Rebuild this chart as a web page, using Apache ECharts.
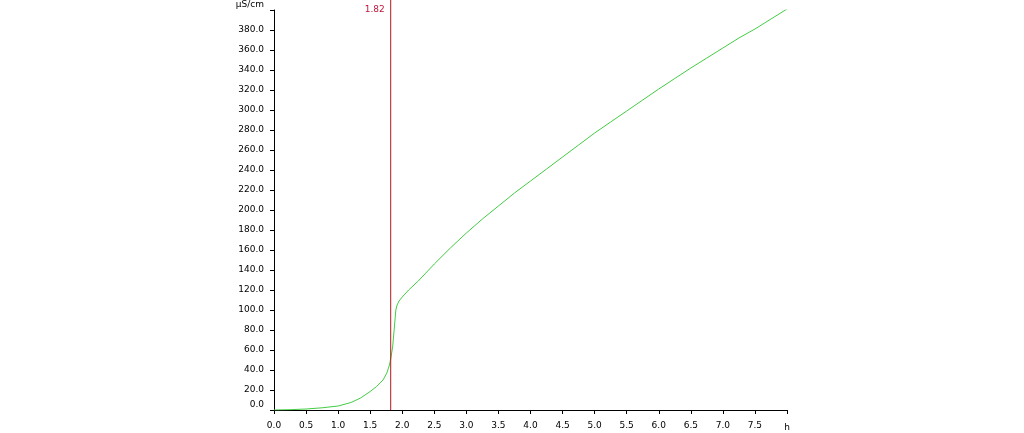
<!DOCTYPE html>
<html>
<head>
<meta charset="utf-8">
<script src="https://cdn.jsdelivr.net/npm/echarts@6/dist/echarts.min.js"></script>
<style>html,body{margin:0;padding:0;background:#fff;}#c{width:1024px;height:433px;}</style>
</head>
<body>
<div id="c"></div>
<script>
const xValues = [0.0,0.25,0.5,0.75,1.0,1.2,1.35,1.5,1.6,1.7,1.76,1.8,1.82,1.85,1.88,1.9,1.92,1.95,2.0,2.1,2.25,2.5,2.75,3.0,3.25,3.5,3.75,4.0,4.25,4.5,4.75,5.0,5.25,5.5,5.75,6.0,6.25,6.5,6.75,7.0,7.25,7.5,7.75,8.0];
const conductivity = [0,0.3,1,2.2,4,7.5,12,18.5,23.5,30,37,45,51,63,85,100,105,109,113,120,129,146,162,177,191,204,217,229,241,253,265,277,288,299,310,321,331.5,342,352,362,372,381,391,401];
const markerX = 1.82;
const markerLabel = '1.82';
const xUnit = 'h';
const yUnit = 'μS/cm';

const curve = xValues.map((x, i) => [x, conductivity[i]]);
const font = 'DejaVu Sans';
const chart = echarts.init(document.getElementById('c'));
chart.setOption({
  animation: false,
  backgroundColor: '#fff',
  grid: {left: 274, right: 237, top: 10, bottom: 23, containLabel: false},
  xAxis: {
    type: 'value', min: 0, max: 8, interval: 0.5,
    splitLine: {show: false},
    axisLine: {onZero: false, lineStyle: {color: '#000', width: 1}},
    axisTick: {show: true, length: 4, lineStyle: {color: '#000'}},
    axisLabel: {
      color: '#000', fontFamily: font, fontSize: 9, margin: 11,
      showMaxLabel: true,
      formatter: v => v === 8 ? '{u|' + xUnit + '}' : v.toFixed(1),
      rich: {u: {color: '#000', fontFamily: font, fontSize: 9, padding: [2, 0, 0, 0]}}
    }
  },
  yAxis: {
    type: 'value', min: 0, max: 400, interval: 20,
    splitLine: {show: false},
    axisLine: {show: true, lineStyle: {color: '#000', width: 1}},
    axisTick: {show: true, length: 4, lineStyle: {color: '#000'}},
    axisLabel: {
      color: '#000', fontFamily: font, fontSize: 9, margin: 10,
      showMaxLabel: true, showMinLabel: true,
      formatter: v => v === 400 ? '{u|' + yUnit + '}' : (v === 0 ? '{z|0.0}' : v.toFixed(1)),
      rich: {
        u: {color: '#000', fontFamily: font, fontSize: 9, padding: [0, 0, 10, 0]},
        z: {color: '#000', fontFamily: font, fontSize: 9, padding: [0, 0, 10, 0]}
      }
    }
  },
  series: [
    {
      type: 'line', data: curve, showSymbol: false, symbol: 'none',
      smooth: false,
      lineStyle: {color: '#44cc44', width: 1}, z: 2
    },
    {
      type: 'line', clip: false,
      data: [[markerX, 0], {value: [markerX, 400], label: {show: true, position: 'left', distance: 6, formatter: markerLabel, color: '#c0143c', fontFamily: font, fontSize: 9}}, [markerX, 410]],
      symbol: 'circle', symbolSize: 0, showSymbol: true,
      lineStyle: {color: '#b01818', width: 1}, z: 3
    }
  ]
});
</script>
</body>
</html>
